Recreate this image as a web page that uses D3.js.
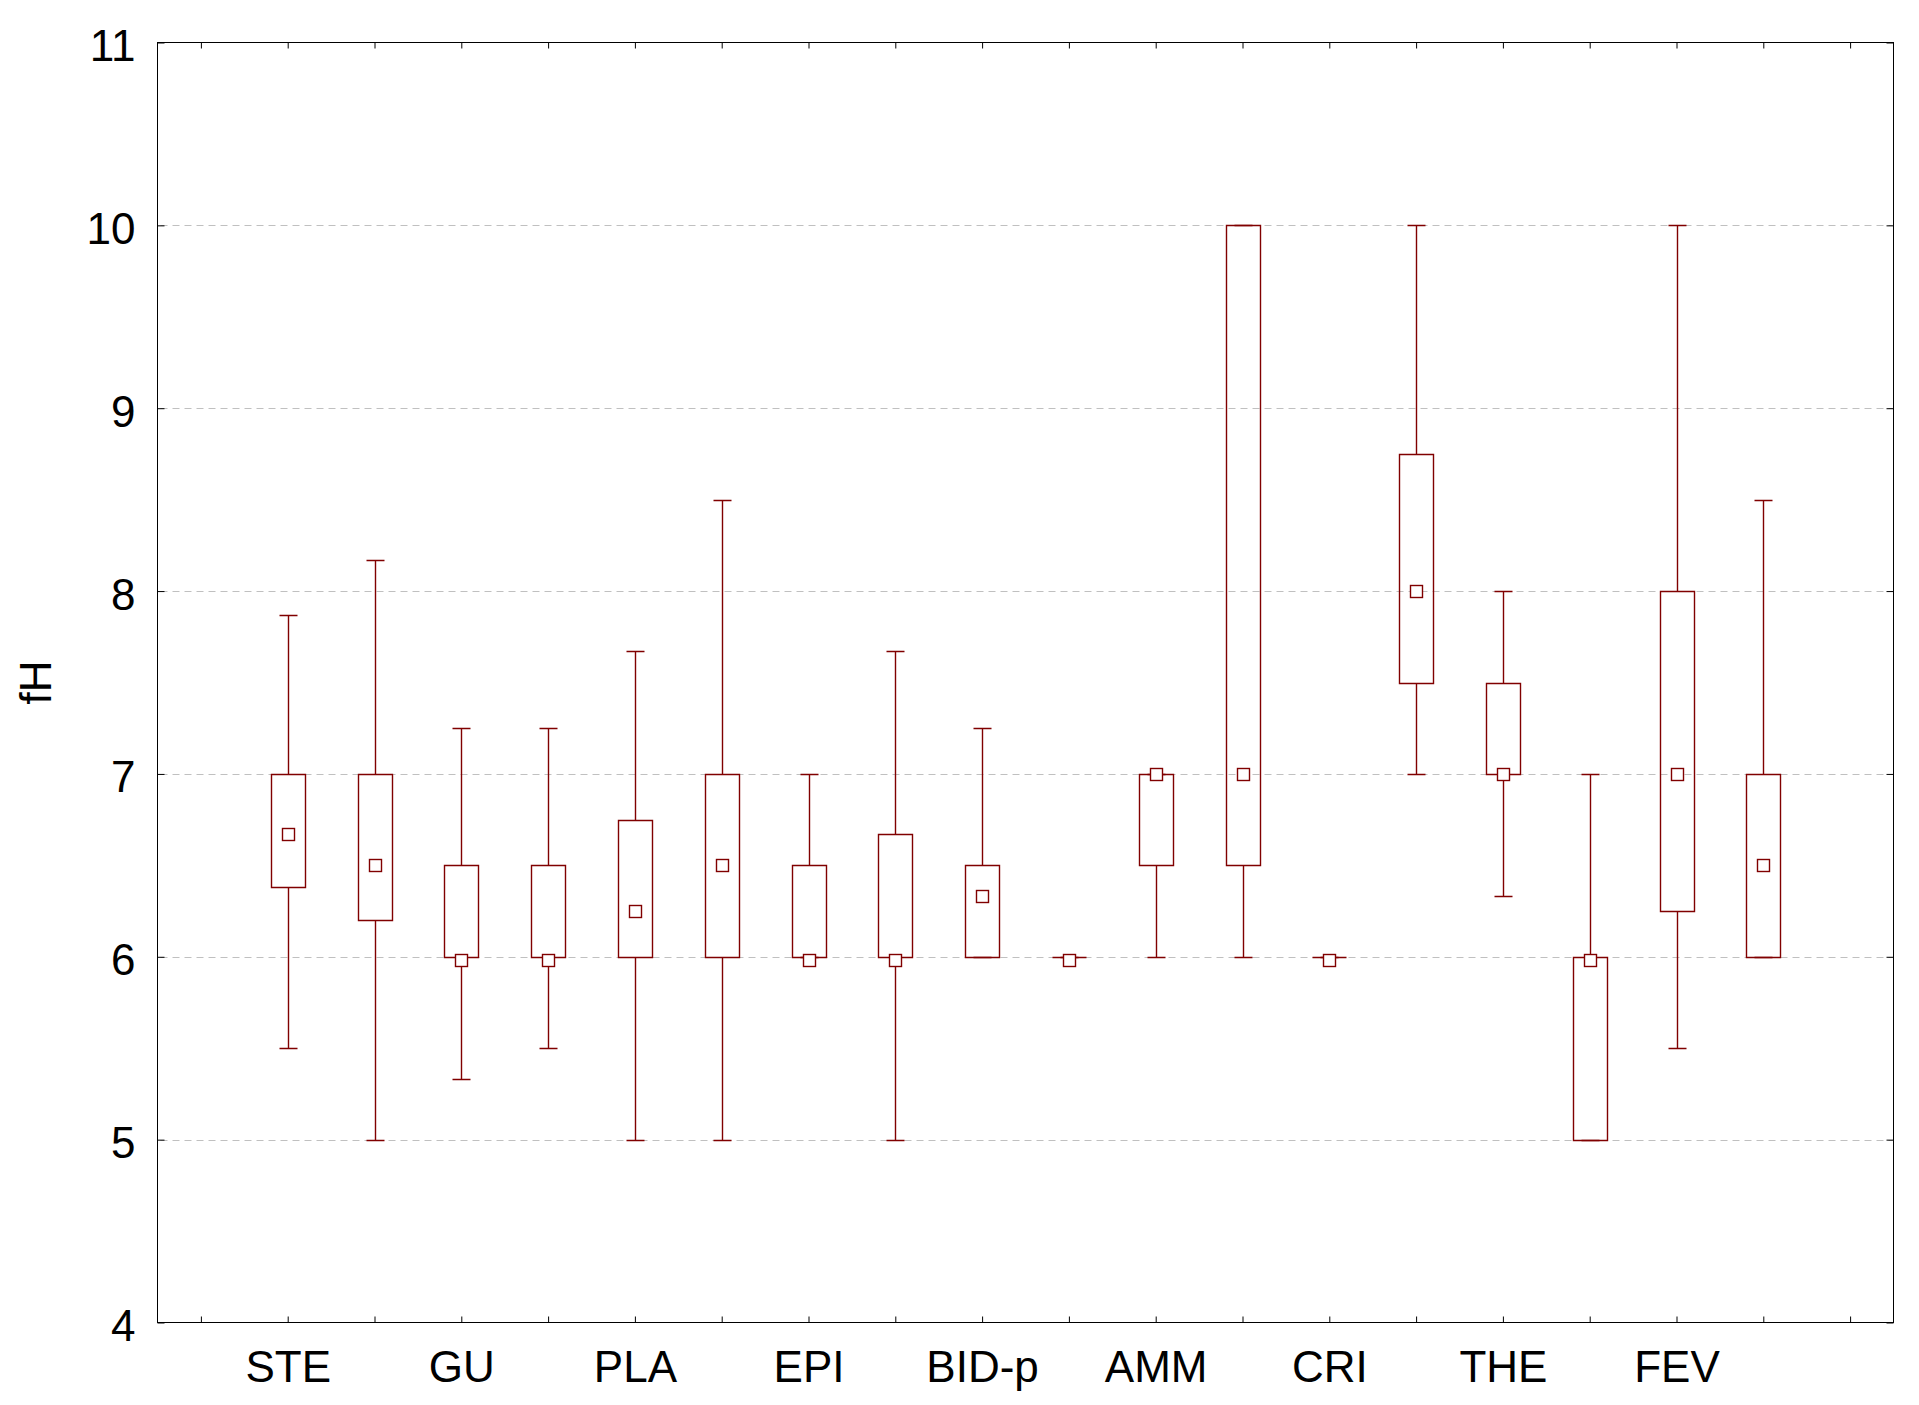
<!DOCTYPE html>
<html><head><meta charset="utf-8">
<script src="https://cdn.jsdelivr.net/npm/d3@7"></script>
<style>body{margin:0;background:#fff}svg{display:block}</style>
</head><body>
<script>
// ---- data ----
const categories = ["STE", "GU", "PLA", "EPI", "BID-p", "AMM", "CRI", "THE", "FEV"];
const labelPositions = [1, 3, 5, 7, 9, 11, 13, 15, 17];
const boxPositions = [1, 2, 3, 4, 5, 6, 7, 8, 9, 10, 11, 12, 13, 14, 15, 16, 17, 18];
const mins    = [5.5, 5.0, 5.33, 5.5, 5.0, 5.0, 6.0, 5.0, 6.0, 6.0, 6.0, 6.0, 6.0, 7.0, 6.33, 5.0, 5.5, 6.0];
const q1s     = [6.38, 6.2, 6.0, 6.0, 6.0, 6.0, 6.0, 6.0, 6.0, 6.0, 6.5, 6.5, 6.0, 7.5, 7.0, 5.0, 6.25, 6.0];
const medians = [6.67, 6.5, 5.98, 5.98, 6.25, 6.5, 5.98, 5.98, 6.33, 5.98, 7.0, 7.0, 5.98, 8.0, 7.0, 5.98, 7.0, 6.5];
const q3s     = [7.0, 7.0, 6.5, 6.5, 6.75, 7.0, 6.5, 6.67, 6.5, 6.0, 7.0, 10.0, 6.0, 8.75, 7.5, 6.0, 8.0, 7.0];
const maxs    = [7.87, 8.17, 7.25, 7.25, 7.67, 8.5, 7.0, 7.67, 7.25, 6.0, 7.0, 10.0, 6.0, 10.0, 8.0, 7.0, 10.0, 8.5];
const xTickPositions = [0, 1, 2, 3, 4, 5, 6, 7, 8, 9, 10, 11, 12, 13, 14, 15, 16, 17, 18, 19];
const yTicks = [4, 5, 6, 7, 8, 9, 10, 11];
const gridValues = [5, 6, 7, 8, 9, 10];
const yTitle = "fH";

// ---- layout ----
const W = 1919, H = 1405;
const L = 157.5, R = 1893.5, T = 42.5, B = 1322.5;
const FONT = "'Liberation Sans', Arial, Helvetica, sans-serif";
const RED = "#800000";

const svg = d3.select("body").append("svg").attr("width", W).attr("height", H);

const x = d3.scaleLinear().domain([-0.5, 19.5]).range([L, R]);
const y = d3.scaleLinear().domain([4, 11]).range([B, T]);
const sy = v => Math.round(y(v)) + 0.5;
const sx = v => Math.round(x(v)) + 0.5;

// grid
svg.append("g").selectAll("line").data(gridValues).join("line")
  .attr("x1", L + 3).attr("x2", R - 1)
  .attr("y1", d => sy(d)).attr("y2", d => sy(d))
  .attr("stroke", "#c0c0c0").attr("stroke-width", 1).attr("stroke-dasharray", "7,5");

// tick axes (inward ticks)
function styleAxis(g) {
  g.select(".domain").remove();
  g.selectAll(".tick line").attr("stroke", "#000").attr("stroke-width", 1);
}
svg.append("g").attr("transform", `translate(0,${B})`)
  .call(d3.axisBottom(x).tickValues(xTickPositions).tickSize(-6).tickFormat(""))
  .call(styleAxis);
svg.append("g").attr("transform", `translate(0,${T})`)
  .call(d3.axisTop(x).tickValues(xTickPositions).tickSize(-6).tickFormat(""))
  .call(styleAxis);
svg.append("g").attr("transform", `translate(${R},0)`)
  .call(d3.axisRight(y).tickValues(yTicks).tickSize(-7).tickFormat(""))
  .call(styleAxis);

// left axis with labels
const ly = svg.append("g").attr("transform", `translate(${L},0)`)
  .call(d3.axisLeft(y).tickValues(yTicks).tickSize(-7).tickPadding(22).tickFormat(d3.format("d")))
  .call(styleAxis);
ly.selectAll("text").attr("font-family", FONT).attr("font-size", 44).attr("fill", "#000").attr("dy", "0.41em");

// bottom category labels
const lx = svg.append("g").attr("transform", `translate(0,${B})`)
  .call(d3.axisBottom(x).tickValues(labelPositions).tickSize(0).tickPadding(28)
    .tickFormat((d, i) => categories[i]))
  .call(g => g.select(".domain").remove());
lx.selectAll("text").attr("font-family", FONT).attr("font-size", 44).attr("fill", "#000");

// frame
svg.append("rect").attr("x", L).attr("y", T).attr("width", R - L).attr("height", B - T)
  .attr("fill", "none").attr("stroke", "#000").attr("stroke-width", 1);

// y title
svg.append("text").attr("transform", `translate(51,${(T + B) / 2}) rotate(-90)`)
  .attr("text-anchor", "middle").attr("font-family", FONT).attr("font-size", 44)
  .attr("fill", "#000").text(yTitle);

// boxes
const boxHalf = 17, capHalf = 9, medHalf = 6;
const data = boxPositions.map((p, i) => ({ p, min: mins[i], q1: q1s[i], med: medians[i], q3: q3s[i], max: maxs[i] }));
const gb = svg.append("g").attr("fill", "none").attr("stroke", RED).attr("stroke-width", 1.4);
data.forEach(d => {
  const cx = sx(d.p);
  const g = gb.append("g");
  // whiskers
  g.append("path").attr("d",
    `M${cx},${sy(d.q3)}V${sy(d.max)}M${cx - capHalf},${sy(d.max)}H${cx + capHalf}` +
    `M${cx},${sy(d.q1)}V${sy(d.min)}M${cx - capHalf},${sy(d.min)}H${cx + capHalf}`);
  // box (path so zero-height boxes still draw)
  g.append("path").attr("fill", "none").attr("d",
    `M${cx - boxHalf},${sy(d.q3)}H${cx + boxHalf}V${sy(d.q1)}H${cx - boxHalf}Z`);
  // median marker
  const my = y(d.med);
  g.append("rect").attr("x", cx - medHalf).attr("y", Math.round(my - medHalf) + 0.5)
    .attr("width", medHalf * 2).attr("height", medHalf * 2).attr("fill", "#fff");
});
</script>
</body></html>
